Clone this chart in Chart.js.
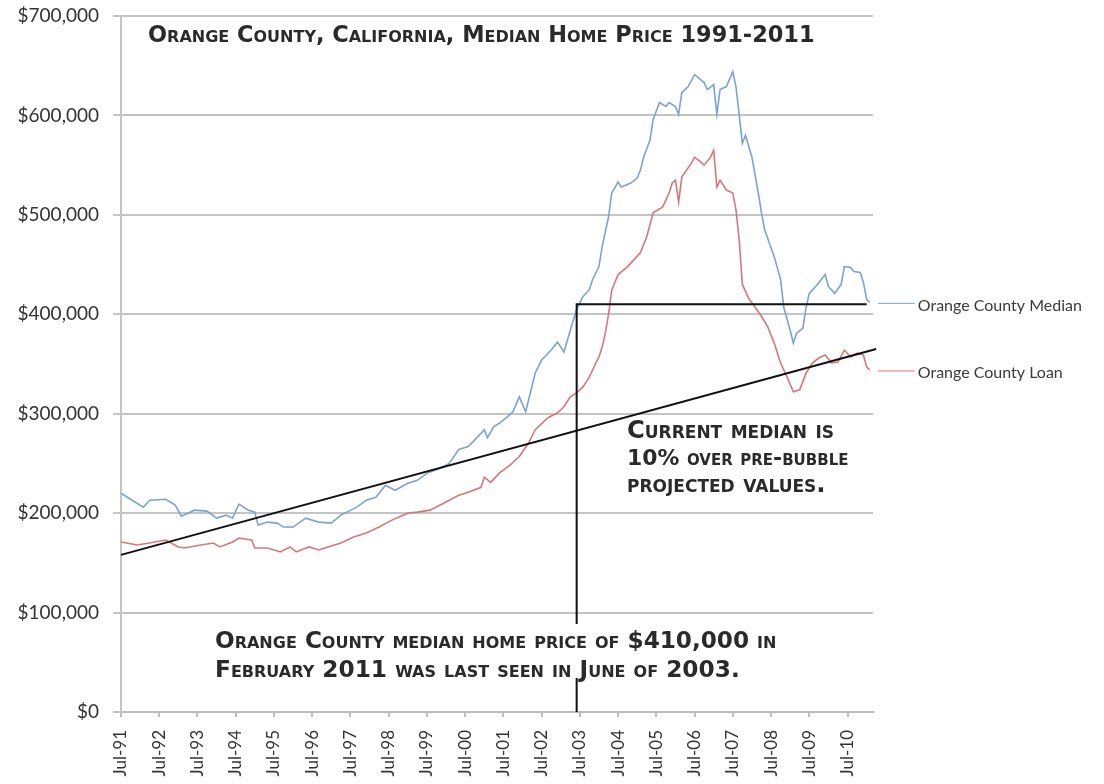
<!DOCTYPE html>
<html>
<head>
<meta charset="utf-8">
<script src="https://cdn.jsdelivr.net/npm/chart.js@4.4.1/dist/chart.umd.min.js"></script>
<style>
  html, body { margin: 0; padding: 0; background: #fff; }
</style>
</head>
<body>
<canvas id="chart" width="1104" height="784"></canvas>
<script>
// --- Data (months counted from Jul-91, values in $) ---
const tickLabels = ['Jul-91', 'Jul-92', 'Jul-93', 'Jul-94', 'Jul-95', 'Jul-96', 'Jul-97', 'Jul-98', 'Jul-99', 'Jul-00',
  'Jul-01', 'Jul-02', 'Jul-03', 'Jul-04', 'Jul-05', 'Jul-06', 'Jul-07', 'Jul-08', 'Jul-09', 'Jul-10'];

const medianMonths = [0, 3, 7, 9, 14, 17, 19, 23, 27, 30, 33, 35, 37, 40, 42, 43, 46, 49, 51, 54, 58, 62, 66, 69, 74, 77, 80,
  83, 86, 90, 93, 96, 100, 103, 106, 109, 112, 114, 115, 117, 119, 121, 123, 125, 127, 130, 132, 135, 137, 139, 141, 143,
  145, 147, 148, 150, 151, 153, 154, 156, 157, 160, 162, 163, 164, 166, 167, 169, 171, 172, 174, 175, 176, 178, 180, 183,
  184, 186, 187, 188, 190, 192, 193, 195, 196, 198, 200, 201, 202, 205, 207, 208, 210, 211, 212, 214, 215, 216, 218, 221,
  222, 224, 226, 227, 229, 230, 232, 233, 234, 235];
const medianValues = [220000, 214000, 206000, 213000, 214000, 208000, 197000, 203000, 202000, 195000, 198000, 195000,
  209000, 203000, 201000, 188000, 191000, 190000, 186000, 186000, 195000, 191000, 190000, 198000, 206000, 213000, 216000,
  228000, 223000, 230000, 233000, 240000, 245000, 250000, 264000, 267000, 277000, 284000, 276000, 287000, 291000, 296000,
  302000, 317000, 302000, 341000, 354000, 364000, 372000, 362000, 384000, 405000, 418000, 425000, 435000, 448000, 468000,
  498000, 522000, 533000, 528000, 532000, 537000, 545000, 558000, 575000, 596000, 613000, 609000, 613000, 609000, 601000,
  623000, 629000, 641000, 633000, 626000, 631000, 601000, 626000, 629000, 644000, 629000, 572000, 580000, 558000, 522000,
  502000, 485000, 458000, 435000, 407000, 384000, 371000, 381000, 386000, 407000, 421000, 428000, 440000, 428000, 421000,
  430000, 448000, 447000, 443000, 442000, 432000, 415000, 412000];

const loanMonths = [0, 5, 9, 14, 18, 20, 25, 29, 31, 35, 37, 41, 42, 46, 50, 53, 55, 59, 62, 64, 69, 73, 77, 81, 85, 90, 93,
  97, 100, 103, 106, 109, 113, 114, 116, 119, 122, 125, 128, 130, 134, 137, 139, 141, 143, 145, 147, 149, 150, 151, 152,
  153, 154, 156, 159, 161, 163, 165, 167, 170, 172, 173, 174, 175, 176, 179, 180, 182, 183, 185, 186, 187, 188, 190, 192,
  193, 194, 195, 197, 199, 201, 203, 205, 207, 209, 211, 213, 215, 217, 219, 221, 223, 225, 227, 229, 231, 233, 234, 235];
const loanValues = [171000, 168000, 170000, 173000, 166000, 165000, 168000, 170000, 166000, 171000, 175000, 173000, 165000,
  165000, 161000, 166000, 161000, 166000, 163000, 165000, 170000, 176000, 180000, 186000, 193000, 200000, 201000, 203000,
  208000, 213000, 218000, 221000, 226000, 236000, 231000, 241000, 248000, 257000, 271000, 284000, 296000, 301000, 307000,
  317000, 321000, 327000, 337000, 351000, 357000, 367000, 381000, 400000, 424000, 440000, 448000, 455000, 462000, 478000,
  502000, 508000, 522000, 532000, 535000, 513000, 538000, 552000, 558000, 553000, 550000, 558000, 565000, 528000, 535000,
  525000, 522000, 505000, 475000, 430000, 416000, 407000, 398000, 387000, 371000, 351000, 337000, 322000, 324000, 341000,
  351000, 356000, 359000, 351000, 352000, 364000, 357000, 361000, 359000, 347000, 344000];

// pre-bubble projection and the $410,000 marker (Jun-03 -> Feb-11)
const trendMonths = [0, 237];
const trendValues = [158000, 365000];
const markerMonths = [143, 143, 234];
const markerValues = [0, 410000, 410000];

const seriesNames = ['Orange County Median', 'Orange County Loan'];
const titleText = 'Orange County, California, Median Home Price 1991-2011';
const noteCurrent = ['Current median is', '10% over pre-bubble', 'projected values.'];
const noteLastSeen = ['Orange County median home price of $410,000 in', 'February 2011 was last seen in June of 2003.'];

const BLUE = '#7aa3d4';
const RED = '#d7777a';

const toPoints = (xs, ys) => xs.map((m, i) => ({ x: m, y: ys[i] }));

// --- Drawing helpers ---
function fitText(ctx, text, x, y, width, baseSize) {
    ctx.font = `small-caps bold ${baseSize}px "DejaVu Sans"`;
    const w = ctx.measureText(text).width;
    const size = baseSize * width / w;
    ctx.font = `small-caps bold ${size.toFixed(2)}px "DejaVu Sans"`;
    ctx.fillText(text, x, y);
}

const notesPlugin = {
    id: 'notes',
    afterDatasetsDraw(chart) {
        const { ctx, chartArea: a } = chart;
        ctx.save();
        ctx.fillStyle = '#2a2a2a';
        ctx.textBaseline = 'alphabetic';
        ctx.textAlign = 'left';

        // title
        fitText(ctx, titleText, a.left + 27, a.top + 26, 660, 20);

        // current median note
        fitText(ctx, noteCurrent[0], 627, 438, 203, 19);
        fitText(ctx, noteCurrent[1], 627, 465, 221, 19);
        fitText(ctx, noteCurrent[2], 627, 492, 196, 19);

        // last seen note (white box hides the marker line behind it)
        ctx.fillStyle = '#fff';
        ctx.fillRect(560, 624, 40, 54);
        ctx.fillStyle = '#2a2a2a';
        fitText(ctx, noteLastSeen[0], 215, 648, 566, 20);
        fitText(ctx, noteLastSeen[1], 215, 677, 530, 20);

        // series labels with leader lines
        ctx.font = '16px Lato';
        ctx.textBaseline = 'middle';
        [0, 1].forEach(i => {
            const meta = chart.getDatasetMeta(i);
            const last = meta.data[meta.data.length - 1];
            const ly = last.y + 1;
            ctx.strokeStyle = chart.data.datasets[i].borderColor;
            ctx.lineWidth = 1;
            ctx.beginPath();
            ctx.moveTo(last.x + 8, ly);
            ctx.lineTo(last.x + 45, ly);
            ctx.stroke();
            ctx.fillStyle = '#3a3a3a';
            ctx.fillText(seriesNames[i], last.x + 48, ly + 2);
        });
        ctx.restore();
    }
};

// --- Chart ---
const ctx = document.getElementById('chart').getContext('2d');
Chart.defaults.font.family = 'Lato';

new Chart(ctx, {
    type: 'line',
    data: {
        datasets: [
            {
                label: seriesNames[0],
                data: toPoints(medianMonths, medianValues),
                borderColor: BLUE,
                borderWidth: 1.6,
                pointRadius: 0,
                tension: 0,
                order: 1
            },
            {
                label: seriesNames[1],
                data: toPoints(loanMonths, loanValues),
                borderColor: RED,
                borderWidth: 1.6,
                pointRadius: 0,
                tension: 0,
                order: 2
            },
            {
                label: 'Projection',
                data: toPoints(trendMonths, trendValues),
                borderColor: '#111',
                borderWidth: 2,
                pointRadius: 0,
                clip: 4,
                order: 0
            },
            {
                label: 'Marker',
                data: toPoints(markerMonths, markerValues),
                borderColor: '#111',
                borderWidth: 2,
                pointRadius: 0,
                order: 0
            }
        ]
    },
    options: {
        responsive: false,
        animation: false,
        layout: { padding: { top: 16, right: 231, bottom: 0, left: 0 } },
        plugins: {
            legend: { display: false },
            tooltip: { enabled: false }
        },
        scales: {
            x: {
                type: 'linear',
                min: 0,
                max: 236,
                afterBuildTicks: s => { s.ticks = tickLabels.map((_, i) => ({ value: i * 12 })); },
                afterFit: s => { s.height = 72; s.paddingLeft = 0; s.paddingRight = 0; },
                ticks: {
                    callback: (v, i) => tickLabels[i],
                    autoSkip: false,
                    minRotation: 90,
                    maxRotation: 90,
                    padding: 13,
                    color: '#333',
                    font: { size: 17 }
                },
                grid: { drawOnChartArea: false, drawTicks: true, tickLength: 5, color: '#bdbdbd', lineWidth: 2 },
                border: { color: '#bdbdbd', width: 2 }
            },
            y: {
                min: 0,
                max: 700000,
                afterFit: s => { s.width = 121; s.paddingTop = 0; s.paddingBottom = 0; },
                ticks: {
                    stepSize: 100000,
                    callback: v => '$' + v.toLocaleString('en-US'),
                    padding: 14,
                    color: '#333',
                    font: { size: 19 }
                },
                grid: { color: '#c4c4c4', lineWidth: 2, tickLength: 8 },
                border: { color: '#c4c4c4', width: 2 }
            }
        }
    },
    plugins: [notesPlugin]
});
</script>
</body>
</html>
